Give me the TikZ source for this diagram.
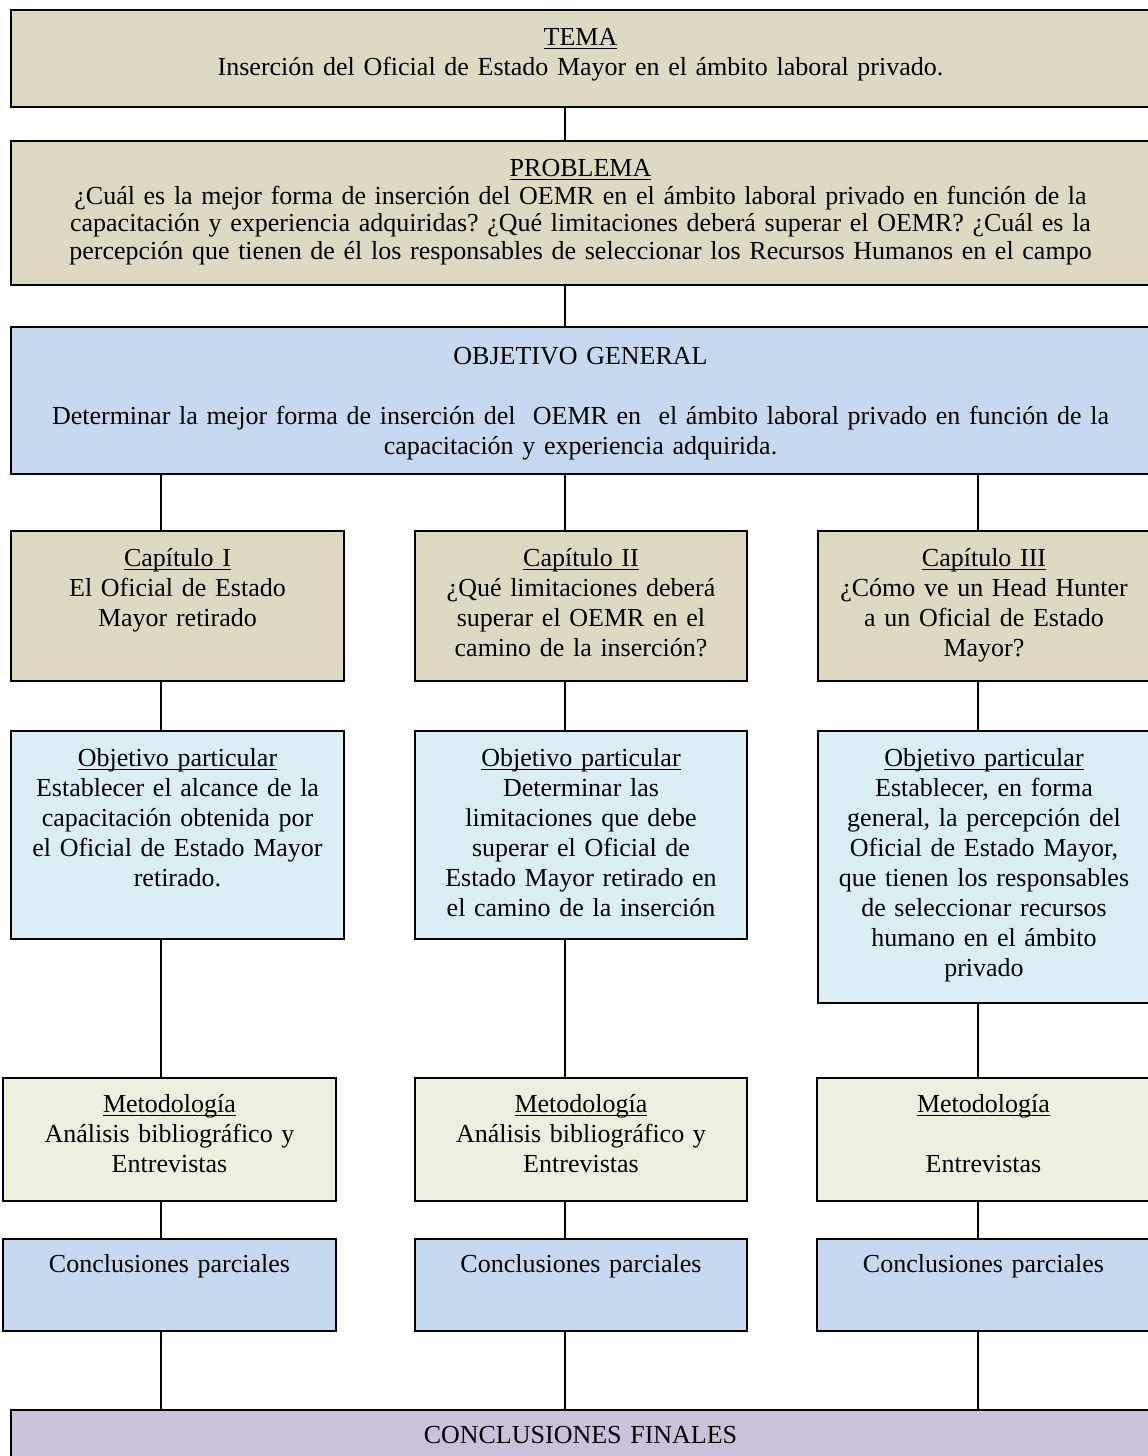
\documentclass[tikz,border=0pt]{standalone}
\usepackage{fontspec}
\setmainfont{Liberation Serif}
\usetikzlibrary{positioning}
\frenchspacing

\definecolor{cafe}{RGB}{221,217,195}
\definecolor{azul}{RGB}{198,217,241}
\definecolor{celeste}{RGB}{219,238,244}
\definecolor{verde}{RGB}{235,241,222}
\definecolor{lila}{RGB}{204,193,218}

\newcommand{\subr}[1]{\setbox0\hbox{#1}\rlap{\rule[-3.2pt]{\wd0}{1.3pt}}\box0}

\tikzset{every picture/.style={line width=1.6pt}}
\tikzset{
  caja/.style={draw, anchor=north, inner sep=0pt, align=center, text height=36pt, font=\fontsize{26}{30}\selectfont},
  enlace/.style={draw, line width=1.8pt},
}

\begin{document}
\begin{tikzpicture}[x=1pt,y=1pt,yscale=-1,xscale=1]
	\useasboundingbox (0,0) rectangle (1148,1456);

	% columnas de los enlaces
	\coordinate (colA) at (161,0);
	\coordinate (colB) at (565,0);
	\coordinate (colC) at (978,0);

	% Tema
	\node[caja, fill=cafe, text width=1139pt, text depth=61pt] (tema) at (580.5,9)
		{\subr{TEMA}\\Inserción del Oficial de Estado Mayor en el ámbito laboral privado.};
	% Problema
	\node[caja, fill=cafe, text width=1139pt, text depth=108pt, font=\fontsize{26}{27.5}\selectfont] (problema) at (580.5,140)
		{\subr{PROBLEMA}\\¿Cuál es la mejor forma de inserción del OEMR en el ámbito laboral privado en función de la\\capacitación y experiencia adquiridas? ¿Qué limitaciones deberá superar el OEMR? ¿Cuál es la\\percepción que tienen de él los responsables de seleccionar los Recursos Humanos en el campo};
	% Objetivo general
	\node[caja, fill=azul, text width=1139pt, text depth=109pt, text height=38pt] (objgen) at (580.5,326)
		{OBJETIVO GENERAL\\[30pt]Determinar la mejor forma de inserción del\ \ OEMR en\ \ el ámbito laboral privado en función de la\\capacitación y experiencia adquirida.};

	% Capitulos
	\node[caja, fill=cafe, text width=333pt, text depth=114pt] (capA) at (177.5,530)
		{\subr{Capítulo I}\\El Oficial de Estado\\Mayor retirado};
	\node[caja, fill=cafe, text width=332pt, text depth=114pt] (capB) at (581,530)
		{\subr{Capítulo II}\\¿Qué limitaciones deberá\\superar el OEMR en el\\camino de la inserción?};
	\node[caja, fill=cafe, text width=332pt, text depth=114pt] (capC) at (984,530)
		{\subr{Capítulo III}\\¿Cómo ve un Head Hunter\\a un Oficial de Estado\\Mayor?};

	% Objetivos particulares
	\node[caja, fill=celeste, text width=333pt, text depth=172pt] (objA) at (177.5,730)
		{\subr{Objetivo particular}\\Establecer el alcance de la\\capacitación obtenida por\\el Oficial de Estado Mayor\\retirado.};
	\node[caja, fill=celeste, text width=332pt, text depth=172pt] (objB) at (581,730)
		{\subr{Objetivo particular}\\Determinar las\\limitaciones que debe\\superar el Oficial de\\Estado Mayor retirado en\\el camino de la inserción};
	\node[caja, fill=celeste, text width=332pt, text depth=236pt] (objC) at (984,730)
		{\subr{Objetivo particular}\\Establecer, en forma\\general, la percepción del\\Oficial de Estado Mayor,\\que tienen los responsables\\de seleccionar recursos\\humano en el ámbito\\privado};

	% Metodologia
	\node[caja, fill=verde, text width=333pt, text depth=88pt, text height=35pt] (metA) at (169.5,1077)
		{\subr{Metodología}\\Análisis bibliográfico y\\Entrevistas};
	\node[caja, fill=verde, text width=332pt, text depth=88pt, text height=35pt] (metB) at (581,1077)
		{\subr{Metodología}\\Análisis bibliográfico y\\Entrevistas};
	\node[caja, fill=verde, text width=333pt, text depth=88pt, text height=35pt] (metC) at (983.5,1077)
		{\subr{Metodología}\\[30pt]Entrevistas};

	% Conclusiones parciales
	\node[caja, fill=azul, text width=333pt, text depth=58pt, text height=34pt] (conA) at (169.5,1238)
		{Conclusiones parciales};
	\node[caja, fill=azul, text width=332pt, text depth=58pt, text height=34pt] (conB) at (581,1238)
		{Conclusiones parciales};
	\node[caja, fill=azul, text width=333pt, text depth=58pt, text height=34pt] (conC) at (983.5,1238)
		{Conclusiones parciales};

	% Conclusiones finales
	\node[caja, fill=lila, text width=1139pt, text depth=40pt, text height=34pt] (final) at (580.5,1409)
		{CONCLUSIONES FINALES};

	%Straight Lines
	\draw[enlace] (tema.south -| colB) -- (problema.north -| colB);
	\draw[enlace] (problema.south -| colB) -- (objgen.north -| colB);
	%Straight Lines
	\draw[enlace] (objgen.south -| colA) -- (capA.north -| colA);
	\draw[enlace] (objgen.south -| colB) -- (capB.north -| colB);
	\draw[enlace] (objgen.south -| colC) -- (capC.north -| colC);
	%Straight Lines
	\draw[enlace] (capA.south -| colA) -- (objA.north -| colA);
	\draw[enlace] (capB.south -| colB) -- (objB.north -| colB);
	\draw[enlace] (capC.south -| colC) -- (objC.north -| colC);
	%Straight Lines
	\draw[enlace] (objA.south -| colA) -- (metA.north -| colA);
	\draw[enlace] (objB.south -| colB) -- (metB.north -| colB);
	\draw[enlace] (objC.south -| colC) -- (metC.north -| colC);
	%Straight Lines
	\draw[enlace] (metA.south -| colA) -- (conA.north -| colA);
	\draw[enlace] (metB.south -| colB) -- (conB.north -| colB);
	\draw[enlace] (metC.south -| colC) -- (conC.north -| colC);
	%Straight Lines
	\draw[enlace] (conA.south -| colA) -- (final.north -| colA);
	\draw[enlace] (conB.south -| colB) -- (final.north -| colB);
	\draw[enlace] (conC.south -| colC) -- (final.north -| colC);

\end{tikzpicture}
\end{document}
